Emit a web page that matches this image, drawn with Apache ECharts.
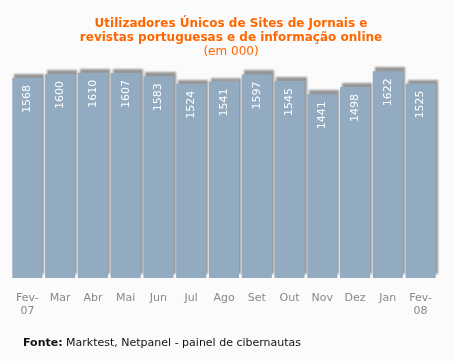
<!DOCTYPE html>
<html><head><meta charset="utf-8">
<script src="https://cdn.jsdelivr.net/npm/echarts@6/dist/echarts.min.js"></script>
<style>html,body{margin:0;padding:0;background:#fbfbfb}#c{width:454px;height:361px}</style>
</head><body><div id="c"></div>
<script>
const categories = ['Fev-\n07','Mar','Abr','Mai','Jun','Jul','Ago','Set','Out','Nov','Dez','Jan','Fev-\n08'];
const values = [1568,1600,1610,1607,1583,1524,1541,1597,1545,1441,1498,1622,1525];
const titleLines = ['Utilizadores Únicos de Sites de Jornais e','revistas portuguesas e de informação online'];
const subtitle = '(em 000)';
const source = ['Fonte:', ' Marktest, Netpanel - painel de cibernautas'];

const chart = echarts.init(document.getElementById('c'), null, {renderer:'canvas'});
chart.setOption({
  backgroundColor:'#fbfbfb',
  animation:false,
  title:[{
    text: titleLines.join('\n'),
    subtext: subtitle,
    left: 231, top: 17, textAlign:'center', padding:0,
    textStyle:{color:'#ff6600',fontSize:12,fontWeight:'bold',fontFamily:'DejaVu Sans',lineHeight:14},
    subtextStyle:{color:'#ff6600',fontSize:12,fontFamily:'DejaVu Sans'},
    itemGap:1
  },{
    text:'{b|'+source[0]+'}'+source[1],
    left:23, top:338, padding:0,
    textStyle:{fontSize:11,fontFamily:'DejaVu Sans',color:'#111',fontWeight:'normal',
      rich:{b:{fontWeight:'bold',fontSize:11,fontFamily:'DejaVu Sans',color:'#111'}}}
  }],
  grid:{left:11,right:17,top:23,bottom:83},
  xAxis:{type:'category',data:categories,
    axisLine:{show:false},axisTick:{show:false},
    axisLabel:{color:'#888',fontSize:11,fontFamily:'DejaVu Sans',margin:14,lineHeight:13,interval:0}},
  yAxis:{type:'value',min:0,max:2000,show:false,splitLine:{show:false}},
  series:[{
    type:'bar',data:values,barCategoryGap:'8%',
    itemStyle:{color:'#92abc1',shadowColor:'rgba(0,0,0,0.4)',shadowBlur:2,shadowOffsetX:2,shadowOffsetY:-4},
    label:{show:true,position:'insideTop',rotate:90,align:'right',verticalAlign:'middle',distance:7,
      color:'#fff',fontSize:11,fontFamily:'DejaVu Sans'}
  }]
});
</script></body></html>
